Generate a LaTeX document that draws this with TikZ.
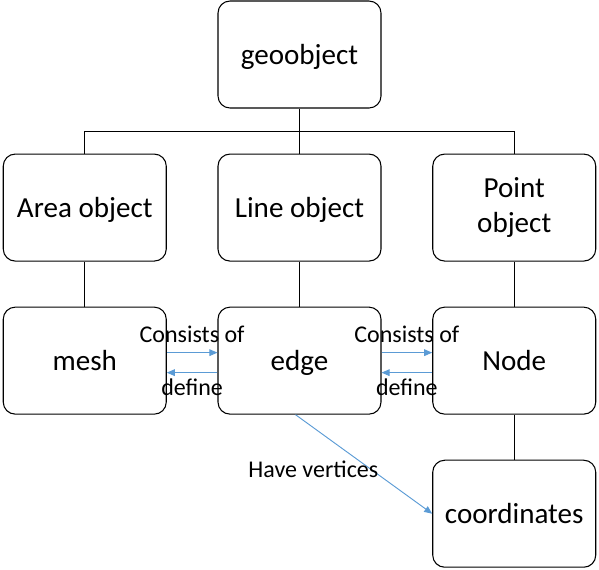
\documentclass[tikz,border=0pt]{standalone}
\usepackage{fontspec}
\setmainfont{Carlito}
\usetikzlibrary{arrows.meta, positioning, calc}

\begin{document}
\begin{tikzpicture}[
    x=0.75pt, y=-0.75pt,
    node distance=33.75pt and 38pt,
    box/.style={draw, rounded corners=9pt, line width=0.8pt, minimum width=122.25pt, minimum height=80.25pt, text depth=0pt, font=\fontsize{21.8}{26}\selectfont},
    flow/.style={draw={rgb,255:red,91;green,155;blue,213}, line width=0.7pt, -{Triangle[length=6pt,width=5pt]}},
    lbl/.style={font=\fontsize{18}{21}\selectfont, inner sep=1pt}
]
    \useasboundingbox (0,0) rectangle (599,569);

    % Top level
    \node[box] (geo) at (299.5,54.5) {geoobject};

    % Object types
    \node[box, below=of geo] (line) {Line object};
    \node[box, left=of line] (area) {Area object};
    \node[box, right=of line, align=center, text depth=] (point) {Point\\object};

    % Elements
    \node[box, below=of area] (mesh) {mesh};
    \node[box, below=of line] (edge) {edge};
    \node[box, below=of point] (nodeN) {Node};
    \node[box, below=of nodeN] (coords) {coordinates};

    % Hierarchy
    \coordinate (bus) at ($(geo.south)!0.5!(line.north)$);
    \draw[line width=0.8pt] (geo.south) -- (line.north);
    \draw[line width=0.8pt] (area.north) |- (bus) -| (point.north);
    \draw[line width=0.8pt] (area) -- (mesh);
    \draw[line width=0.8pt] (line) -- (edge);
    \draw[line width=0.8pt] (point) -- (nodeN);
    \draw[line width=0.8pt] (nodeN) -- (coords);

    % Relations
    \draw[flow] ([yshift=6pt]mesh.east) -- ([yshift=6pt]edge.west) node[lbl, midway, above=6pt] {Consists of};
    \draw[flow] ([yshift=-9pt]edge.west) -- ([yshift=-9pt]mesh.east) node[lbl, midway, below=3pt] {define};
    \draw[flow] ([yshift=6pt]edge.east) -- ([yshift=6pt]nodeN.west) node[lbl, midway, above=6pt] {Consists of};
    \draw[flow] ([yshift=-9pt]nodeN.west) -- ([yshift=-9pt]edge.east) node[lbl, midway, below=3pt] {define};
    \draw[flow] ([xshift=-3pt]edge.south) -- (coords.west) node[lbl, pos=0.55, anchor=east, xshift=7pt] {Have vertices};

\end{tikzpicture}
\end{document}
